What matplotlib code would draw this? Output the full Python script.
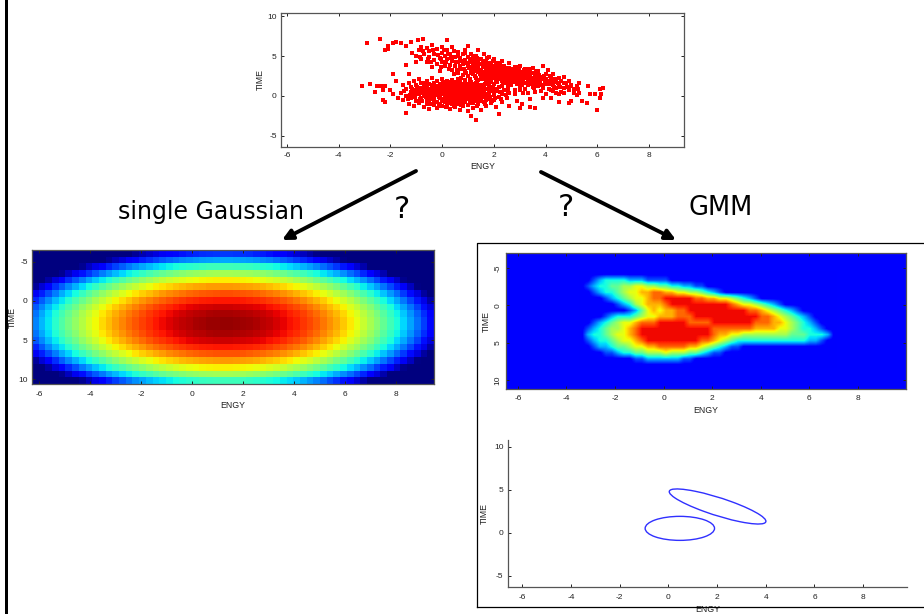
import numpy as np
import matplotlib
matplotlib.use("Agg")
import matplotlib.pyplot as plt
from matplotlib.patches import Ellipse, FancyArrowPatch, Rectangle

plt.rcParams["font.family"] = ["Liberation Sans", "DejaVu Sans"]
plt.rcParams["axes.unicode_minus"] = False

# scatter points, (ENGY, TIME)
stray_points = [(-2.9, 6.7), (-2.4, 7.1), (-2.2, 5.7), (-2.1, 6.3), (-2.1, 5.9), (-1.9, 6.7), (-1.8, 6.8), (-1.6, 6.7),
                (-1.4, 6.3), (-1.2, 6.8), (-0.95, 7.0), (-0.75, 7.1), (0.2, 7.0), (-3.1, 1.3), (-2.8, 1.5), (-2.5, 1.3),
                (-2.35, 1.3), (-2.2, 1.3), (-2.6, 0.5), (-2.3, 0.8), (-2.3, -0.5), (-2.2, -0.8), (-1.4, -2.1), (6.0, -1.7),
                (1.3, -3.0), (1.1, -2.5), (2.2, -2.2), (3.4, -1.4), (3.6, -1.5), (3.0, -1.5), (6.2, 1.0), (6.1, 0.9),
                (6.15, 0.2), (6.1, -0.3), (5.9, 0.3), (5.65, 1.3), (5.6, -0.9), (5.3, 0.4), (5.25, 0.9), (5.2, 0.1),
                (5.0, 1.2), (4.9, -0.9), (5.0, -0.6), (4.7, 1.6), (5.3, 1.6), (5.7, 0.2), (5.4, -0.6), (4.5, -0.7),
                (-1.9, 2.8), (-1.8, 1.9), (-1.4, 3.9), (-1.3, 2.8), (-1.0, 4.2), (-1.9, 0.2), (-2.0, 0.7), (-1.7, -0.3)]
lower_points = [(-1.6, 0.4), (-1.5, 1.4), (-1.5, -0.5), (-1.4, 0.9), (-1.4, 0.0), (-1.3, 1.6), (-1.3, -1.0), (-1.2, 0.5),
                (-1.2, 1.1), (-1.2, -0.3), (-1.1, 1.9), (-1.1, 0.1), (-1.1, -1.2), (-1.0, 0.8), (-1.0, -0.6), (-1.0, 1.4),
                (-0.9, 0.3), (-0.9, 2.1), (-0.9, -0.9), (-0.8, 1.0), (-0.8, -0.2), (-0.8, 1.6), (-0.8, 0.5), (-0.7, -1.4),
                (-0.7, 0.7), (-0.7, 1.3), (-0.7, 0.0), (-0.6, -0.5), (-0.6, 1.9), (-0.6, 0.4), (-0.6, 1.0), (-0.6, -1.0),
                (-0.5, 0.1), (-0.5, 1.5), (-0.5, 0.7), (-0.5, -0.7), (-0.5, -1.6), (-0.4, 1.2), (-0.4, 0.3), (-0.4, 2.2),
                (-0.4, -0.2), (-0.4, 0.9), (-0.3, -1.1), (-0.3, 0.5), (-0.3, 1.6), (-0.3, 0.0), (-0.3, -0.5), (-0.3, 1.1),
                (-0.2, 0.7), (-0.2, -0.8), (-0.2, 1.9), (-0.2, 0.2), (-0.2, -1.5), (-0.2, 1.3), (-0.1, 0.4), (-0.1, -0.3),
                (-0.1, 0.9), (-0.1, 1.5), (-0.1, -1.0), (-0.1, 0.0), (0.0, 0.6), (0.0, 1.2), (0.0, -0.6), (0.0, 2.1),
                (0.0, 0.2), (0.0, -1.3), (0.1, 0.9), (0.1, -0.1), (0.1, 1.6), (0.1, 0.4), (0.1, -0.8), (0.1, 1.2),
                (0.2, 0.0), (0.2, 0.7), (0.2, 1.9), (0.2, -0.4), (0.2, 1.0), (0.2, -1.1), (0.2, 0.3), (0.3, 1.4),
                (0.3, 0.5), (0.3, -0.2), (0.3, -1.6), (0.3, 0.9), (0.3, -0.7), (0.3, 1.7), (0.3, 0.1), (0.4, 1.1),
                (0.4, 0.6), (0.4, -0.4), (0.4, 2.0), (0.4, 0.2), (0.4, -1.0), (0.4, 1.4), (0.4, 0.9), (0.5, -0.1),
                (0.5, 0.4), (0.5, 1.2), (0.5, -0.7), (0.5, 1.7), (0.5, 0.7), (0.5, -1.4), (0.5, 0.0), (0.6, 1.0),
                (0.6, 0.3), (0.6, -0.4), (0.6, 1.5), (0.6, 0.6), (0.6, -1.0), (0.6, 2.1), (0.6, -0.1), (0.7, 0.8),
                (0.7, 1.3), (0.7, 0.1), (0.7, -0.6), (0.7, -1.8), (0.7, 0.5), (0.7, 1.8), (0.7, -0.2), (0.8, 1.0),
                (0.8, 0.3), (0.8, -0.9), (0.8, 1.5), (0.8, 0.7), (0.8, -0.4), (0.8, -1.3), (0.9, 0.0), (0.9, 1.2),
                (0.9, 0.5), (0.9, 2.0), (0.9, -0.7), (0.9, 0.9), (1.0, -0.2), (1.0, 1.5), (1.0, 0.3), (1.0, -1.1),
                (1.0, 0.8), (1.0, -1.9), (1.1, 1.1), (1.1, 0.1), (1.1, -0.5), (1.1, 1.8), (1.1, 0.6), (1.2, -0.9),
                (1.2, 1.3), (1.2, 0.3), (1.2, -0.2), (1.2, -1.5), (1.3, 0.8), (1.3, 1.6), (1.3, -0.6), (1.3, 0.0),
                (1.4, 1.1), (1.4, 0.5), (1.4, -1.0), (1.4, 2.0), (1.5, -0.3), (1.5, 0.2), (1.5, 1.4), (1.5, -1.7),
                (1.6, 0.7), (1.6, -0.7), (1.6, 1.0), (1.7, 0.0), (1.7, 1.7), (1.7, -1.2), (1.8, 0.4), (1.8, -0.4),
                (1.8, 1.2), (1.9, 0.8), (1.9, -0.9), (2.0, 0.1), (2.0, 1.5), (2.0, -0.5), (2.1, 0.6), (2.1, -1.4),
                (2.2, 1.1), (2.2, -0.1), (2.3, 0.3), (2.3, -0.8), (2.4, 0.8), (2.5, -0.3), (2.6, 0.4), (2.6, -1.2),
                (2.8, 0.2), (2.9, -0.6), (3.0, 0.7), (3.1, -1.0), (3.3, 0.4), (3.4, -0.4), (3.6, 0.5), (3.9, -0.2),
                (4.0, 0.3), (4.2, -0.3), (4.3, 0.6), (4.5, 0.2)]
upper_points = [(-1.0, 5.0), (-0.9, 5.8), (-0.8, 4.6), (-0.8, 6.2), (-0.7, 5.3), (-0.6, 4.2), (-0.6, 6.0), (-0.5, 4.9),
                (-0.5, 5.6), (-0.4, 3.6), (-0.4, 6.4), (-0.3, 4.5), (-0.3, 5.3), (-0.2, 5.9), (-0.2, 4.0), (-0.1, 4.8),
                (-0.1, 3.1), (0.0, 5.4), (0.0, 4.3), (0.0, 6.2), (0.1, 3.7), (0.1, 5.0), (0.2, 4.6), (0.2, 5.8),
                (0.3, 3.9), (0.3, 5.2), (0.4, 4.4), (0.4, 3.2), (0.4, 6.1), (0.5, 4.9), (0.5, 3.7), (0.6, 5.5),
                (0.6, 4.2), (0.6, 2.9), (0.7, 4.7), (0.7, 3.4), (0.8, 5.2), (0.8, 4.0), (0.8, 2.6), (0.9, 4.5),
                (0.9, 3.1), (0.9, 5.7), (1.0, 3.8), (1.0, 4.9), (1.0, 2.5), (1.0, 6.3), (1.1, 4.2), (1.1, 3.3),
                (1.1, 5.3), (1.2, 2.8), (1.2, 3.9), (1.2, 4.7), (1.3, 3.4), (1.3, 2.3), (1.3, 5.0), (1.4, 4.2),
                (1.4, 3.0), (1.4, 3.7), (1.4, 5.8), (1.5, 2.5), (1.5, 4.6), (1.5, 3.3), (1.6, 3.9), (1.6, 2.8),
                (1.6, 5.2), (1.6, 2.1), (1.7, 4.3), (1.7, 3.2), (1.7, 2.5), (1.8, 3.7), (1.8, 4.9), (1.8, 2.9),
                (1.9, 2.2), (1.9, 4.1), (1.9, 3.3), (2.0, 2.6), (2.0, 3.7), (2.0, 4.6), (2.1, 3.0), (2.1, 2.0),
                (2.1, 4.1), (2.2, 3.4), (2.2, 2.5), (2.2, 3.8), (2.3, 2.9), (2.3, 1.9), (2.3, 4.4), (2.4, 3.3),
                (2.4, 2.4), (2.4, 3.8), (2.5, 2.8), (2.5, 1.6), (2.5, 3.2), (2.6, 2.2), (2.6, 4.1), (2.6, 3.5),
                (2.7, 2.6), (2.7, 3.0), (2.7, 1.9), (2.8, 3.6), (2.8, 2.3), (2.8, 2.8), (2.9, 1.5), (2.9, 3.2),
                (2.9, 2.0), (3.0, 2.6), (3.0, 3.8), (3.0, 1.2), (3.1, 2.2), (3.1, 3.0), (3.1, 1.7), (3.2, 2.7),
                (3.2, 3.4), (3.2, 0.9), (3.3, 2.0), (3.3, 2.4), (3.3, 1.4), (3.4, 3.0), (3.4, 1.8), (3.4, 2.6),
                (3.5, 2.2), (3.5, 3.5), (3.5, 1.1), (3.6, 1.6), (3.6, 2.7), (3.7, 2.0), (3.7, 1.3), (3.7, 3.1),
                (3.8, 2.4), (3.8, 1.7), (3.9, 3.8), (3.9, 1.0), (3.9, 2.1), (4.0, 2.7), (4.0, 1.5), (4.1, 1.9),
                (4.1, 3.2), (4.2, 0.8), (4.2, 2.3), (4.3, 1.4), (4.3, 2.8), (4.4, 1.8), (4.4, 1.0), (4.5, 2.3),
                (4.5, 1.4), (4.6, 1.9), (4.6, 0.5), (4.7, 2.4), (4.7, 1.0), (4.8, 1.6), (4.9, 0.7), (4.9, 1.9),
                (5.0, 1.4), (5.1, 0.4), (5.1, 0.9), (5.2, 1.2)]
# the crowded parts of the cloud, lower blob then the ridge
dense_points = [(-1.23, 0.18), (-0.96, 1.07), (-0.87, -0.43), (-0.74, 0.34), (-0.66, 1.58), (-0.62, -0.12), (-0.53, 0.93),
                (-0.47, 0.42), (-0.44, -0.38), (-0.36, 1.37), (-0.33, 0.68), (-0.27, -0.72), (-0.24, 0.16), (-0.18, 1.02),
                (-0.16, 0.51), (-0.13, -0.17), (-0.07, 1.28), (-0.04, 0.77), (-0.02, 0.33), (0.03, -0.34), (0.05, 1.74),
                (0.06, 0.96), (0.08, 0.52), (0.12, 0.09), (0.14, -0.52), (0.16, 1.38), (0.17, 0.78), (0.19, 0.24),
                (0.23, -0.14), (0.24, 1.13), (0.26, 0.62), (0.27, -0.86), (0.28, 0.38), (0.33, 1.52), (0.34, 0.84),
                (0.35, -0.33), (0.36, 0.26), (0.37, 1.22), (0.42, 0.72), (0.43, 0.04), (0.44, -0.62), (0.46, 1.04),
                (0.47, 0.48), (0.48, 1.58), (0.52, -0.28), (0.53, 0.86), (0.54, 0.14), (0.56, 1.34), (0.57, 0.58),
                (0.58, -0.76), (0.62, 0.42), (0.63, 1.14), (0.64, -0.18), (0.66, 0.74), (0.67, 1.62), (0.68, 0.22),
                (0.72, -0.42), (0.73, 0.92), (0.74, 0.36), (0.76, 1.42), (0.77, -0.06), (0.78, 0.62), (0.82, 1.18),
                (0.83, 0.12), (0.84, -0.72), (0.86, 0.82), (0.87, 0.46), (0.88, 1.72), (0.92, -0.34), (0.93, 1.02),
                (0.94, 0.28), (0.96, 0.66), (0.97, -0.08), (0.98, 1.36), (1.03, 0.52), (1.04, 0.96), (1.06, -0.42),
                (1.07, 1.62), (1.08, 0.18), (1.13, 0.76), (1.14, 1.28), (1.16, -0.16), (1.17, 0.42), (1.23, 1.02),
                (1.24, -0.68), (1.26, 0.62), (1.27, 1.46), (1.33, 0.22), (1.34, 1.84), (1.36, -0.28), (1.37, 0.88),
                (1.43, 0.36), (1.44, 1.34), (1.47, -0.58), (1.53, 0.74), (1.54, 1.12), (1.57, -0.14), (1.63, 0.42),
                (1.64, 1.52), (1.68, -0.46), (1.73, 0.86), (1.76, 0.24), (1.83, 1.46), (1.86, -0.18), (1.94, 0.56),
                (1.96, 1.12), (2.04, -0.24), (2.12, 0.84), (2.24, 0.46), (2.33, 1.24), (2.46, 0.12), (2.54, 1.08),
                (0.26, 3.42), (0.33, 4.72), (0.44, 2.72), (0.52, 4.22), (0.57, 3.24), (0.63, 4.96), (0.68, 3.74),
                (0.74, 2.24), (0.78, 4.42), (0.84, 3.36), (0.87, 5.42), (0.93, 2.84), (0.96, 4.14), (1.03, 3.46),
                (1.06, 2.14), (1.08, 4.62), (1.13, 2.86), (1.16, 3.68), (1.18, 5.04), (1.23, 4.36), (1.26, 3.12),
                (1.28, 2.56), (1.33, 3.86), (1.36, 4.72), (1.38, 2.04), (1.43, 3.28), (1.46, 2.74), (1.48, 4.04),
                (1.53, 2.12), (1.56, 3.58), (1.58, 4.42), (1.63, 3.06), (1.66, 2.44), (1.68, 3.74), (1.73, 4.72),
                (1.74, 2.82), (1.76, 1.94), (1.78, 3.44), (1.83, 2.36), (1.84, 4.16), (1.86, 3.12), (1.88, 1.72),
                (1.93, 2.72), (1.94, 3.58), (1.96, 4.44), (2.03, 2.22), (2.04, 3.24), (2.06, 2.84), (2.07, 3.94),
                (2.13, 1.74), (2.14, 2.56), (2.16, 3.42), (2.17, 3.04), (2.23, 2.14), (2.24, 4.12), (2.26, 2.76),
                (2.27, 3.62), (2.33, 2.44), (2.34, 3.14), (2.36, 1.62), (2.37, 2.04), (2.43, 2.72), (2.44, 3.54),
                (2.46, 2.14), (2.47, 3.02), (2.53, 2.44), (2.54, 1.84), (2.56, 3.38), (2.57, 2.84), (2.63, 2.02),
                (2.64, 2.62), (2.66, 3.14), (2.67, 1.42), (2.73, 3.34), (2.74, 2.24), (2.76, 2.82), (2.77, 1.72),
                (2.83, 2.54), (2.84, 3.04), (2.86, 1.94), (2.87, 3.62), (2.93, 2.32), (2.94, 2.74), (2.96, 1.68),
                (2.97, 3.34), (3.03, 2.04), (3.04, 2.86), (3.06, 2.42), (3.07, 1.42), (3.13, 2.62), (3.14, 1.94),
                (3.16, 3.24), (3.23, 2.22), (3.24, 1.64), (3.26, 2.92), (3.33, 2.64), (3.34, 1.84), (3.36, 3.42),
                (3.43, 2.22), (3.46, 1.44), (3.53, 2.84), (3.54, 1.86), (3.63, 2.36), (3.64, 3.14), (3.66, 1.42),
                (3.73, 2.62), (3.76, 1.76), (3.83, 2.12), (3.86, 1.34), (3.93, 2.52), (3.96, 1.72), (4.03, 2.14),
                (4.13, 1.44), (4.16, 2.54), (4.24, 1.86), (4.33, 1.16), (4.36, 2.16), (4.46, 1.62), (4.56, 1.14),
                (-0.74, 5.62), (-0.56, 4.62), (-0.34, 5.74), (-0.16, 5.12), (-0.04, 4.62), (0.07, 5.74), (0.14, 4.22),
                (0.22, 5.32), (0.38, 4.86), (0.46, 5.62), (-1.16, 5.42), (-0.86, 4.92), (-0.42, 4.26), (-0.06, 3.62),
                (-1.46, 0.62), (-1.33, -0.34), (-1.16, 0.86), (-1.06, -0.14), (-1.04, 0.42), (-0.84, 0.74), (-0.76, -0.64),
                (-0.64, 1.22), (-0.56, -0.26), (-0.43, -1.02), (-0.14, -1.26), (0.16, -1.38), (0.44, -1.24), (0.74, -1.14),
                (1.06, -0.92), (1.34, -1.24), (1.64, -1.02), (1.93, -0.62), (2.26, -0.42), (2.53, 0.62), (2.83, 0.72),
                (3.13, 0.42), (3.56, 1.02), (3.82, 0.62), (4.12, 0.84), (4.42, 0.42), (4.72, 0.36), (4.83, 1.12)]

# heatmap of the single Gaussian: level falls off from the peak along each axis
gauss_peak = 0.98
gauss_col_drop = [.721, .671, .623, .576, .531, .489, .448, .408, .371, .335, .301, .269, .239, .211, .184,
                  .159, .136, .115, .095, .078, .062, .048, .036, .025, .017, .010, .005, .002, .000, .000,
                  .003, .007, .012, .020, .029, .040, .053, .068, .085, .103, .123, .145, .169, .194, .222,
                  .251, .282, .315, .349, .386, .424, .464, .506, .549, .594, .642, .691, .741, .794, .848]
gauss_row_drop = [.800, .690, .553, .431, .323, .232, .155, .094, .048, .017,
                  .002, .002, .017, .048, .095, .156, .233, .325, .433, .555]

# heatmap of the mixture, one digit per cell, read row by row
gmm_rows = ["01233332221111",
            "12334455665544332211",
            "01233456677887766554321",
            "00012345667889999988776654321",
            "000001235677789999999999876654321",
            "00000001246767788999999999988" + "7654321",
            "000123334566777888" + "99999999999" + "88" + "7654321",
            "012345667888" + "99999" + "8888" + "9999999" + "888" + "77" + "654321",
            "123455678" + "999999999999" + "8888888" + "7777" + "66" + "543321",
            "233456678" + "999999999999" + "87766" + "55555555" + "444" + "333" + "2",
            "1233456678" + "999999999" + "887654" + "333333333333" + "221",
            "012234456677" + "88888" + "776543211",
            "00011233445556555443211",
            "000000001122222211"]
gmm_levels = [.11, .2, .3, .38, .47, .55, .63, .72, .8, .9]

# ellipses, centre x, centre y, width, height, angle
ellipse_lower = (0.47, 0.5, 2.85, 2.8, 0)
ellipse_upper = (2.02, 3.05, 5.47, 1.6, -46)

x_ticks = [-6, -4, -2, 0, 2, 4, 6, 8]
y_ticks = [-5, 0, 5, 10]
W, H = 924, 614


def panel(left, top, right, bottom):
    return fig.add_axes([left / W, 1 - bottom / H, (right - left) / W, (bottom - top) / H])


def style(ax, xlim, ylim, xpad, ypad, tickpad, rotate=False):
    ax.set_xlim(xlim)
    ax.set_ylim(ylim)
    ax.set_xticks(x_ticks)
    ax.set_yticks(y_ticks)
    ax.tick_params(direction="in", top=True, right=True, length=2, width=0.7, labelsize=6,
                   colors="#222222", pad=3)
    ax.tick_params(axis="x", pad=tickpad)
    if rotate:
        ax.tick_params(axis="y", labelrotation=90)
        for lab in ax.get_yticklabels():
            lab.set_va("center")
    ax.set_xlabel("ENGY", fontsize=6.3, color="#222222", labelpad=xpad)
    ax.set_ylabel("TIME", fontsize=6.3, color="#222222", labelpad=ypad)
    for sp in ax.spines.values():
        sp.set_linewidth(0.9)
        sp.set_color("#555555")


fig = plt.figure(figsize=(W / 100, H / 100), dpi=100)

# top scatter
ax = panel(281, 13, 684, 147)
cloud = stray_points + lower_points + upper_points + dense_points
ax.scatter([p[0] for p in cloud], [p[1] for p in cloud], s=7, c="#ff0000", marker="s", linewidths=0)
style(ax, (-6.23, 9.35), (-6.4, 10.4), 2, 2, 3.5)

# single Gaussian
ax = panel(32, 250, 434, 384)
gauss = gauss_peak - np.array(gauss_row_drop)[:, None] - np.array(gauss_col_drop)[None, :]
ax.imshow(np.clip(gauss, 0, 1), cmap="jet", vmin=0, vmax=1, aspect="auto", interpolation="nearest",
          extent=[-6.27, 9.49, 10.6, -6.5])
style(ax, (-6.27, 9.49), (10.6, -6.5), 2, 1, 5)

# mixture, one ring of background cells around the table so the edges fade out
ax = panel(505.7, 253.3, 906, 389)
gmm = np.array([[gmm_levels[int(c)] for c in row.ljust(41, "0")] for row in gmm_rows])
gmm = np.pad(gmm, 1, constant_values=gmm_levels[0])
ax.set_facecolor(plt.get_cmap("jet")(0.11))
ax.imshow(gmm, cmap="jet", vmin=0, vmax=1, aspect="auto", interpolation="bilinear",
          extent=[-3.47, 7.14, 8.38, -4.5])
style(ax, (-6.5, 9.98), (11.2, -7), 3, 3, 4, rotate=True)

# ellipses
ax = panel(507.7, 440, 907, 586.7)
for cx, cy, w, h, ang in [ellipse_lower, ellipse_upper]:
    ax.add_patch(Ellipse((cx, cy), w, h, angle=ang, fill=False, ec="#3030ff", lw=1))
style(ax, (-6.6, 9.8), (-6.3, 10.8), 3, 4, 5)
ax.tick_params(top=False, right=False)
ax.spines["top"].set_visible(False)
ax.spines["right"].set_visible(False)

# slide overlay in pixel coordinates
over = fig.add_axes([0, 0, 1, 1], zorder=5)
over.patch.set_visible(False)
over.set_xlim(0, W)
over.set_ylim(H, 0)
over.axis("off")
over.add_patch(Rectangle((5, 0), 3, H, fc="black", ec="none"))
over.plot([477, 477, 924], [607, 243, 243], color="black", lw=0.9)
over.plot([477, 924], [607, 607], color="black", lw=0.9)
for start, end in [((416, 171), (282, 240)), ((541, 172), (676, 240))]:
    over.add_patch(FancyArrowPatch(start, end, arrowstyle="-|>", mutation_scale=15, lw=2.8, color="black",
                                   shrinkA=0, shrinkB=0))
over.text(118, 212, "single Gaussian", fontsize=17, family="DejaVu Sans", va="center", ha="left")
over.text(402, 209, "?", fontsize=22, family="DejaVu Sans", va="center", ha="center")
over.text(566, 207, "?", fontsize=22, family="DejaVu Sans", va="center", ha="center")
over.text(688, 208, "GMM", fontsize=18.5, family="DejaVu Sans", va="center", ha="left")

fig.savefig("out.png", dpi=100)
